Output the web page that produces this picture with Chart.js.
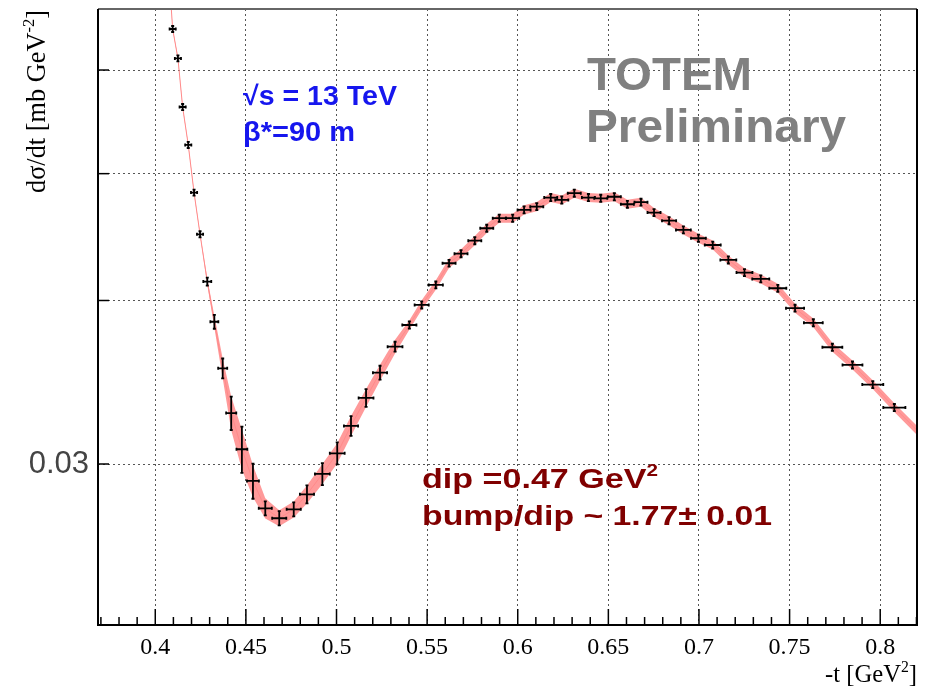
<!DOCTYPE html>
<html>
<head>
<meta charset="utf-8">
<script src="https://cdn.jsdelivr.net/npm/chart.js@4.4.1/dist/chart.umd.min.js"></script>
<style>
  html, body { margin: 0; padding: 0; background: #fff; }
  canvas { display: block; }
</style>
</head>
<body>
<canvas id="dsdt" width="927" height="689"></canvas>
<script>
// measured points: -t [GeV^2], dsigma/dt [mb GeV^-2]
const tValues = [0.4096, 0.4125, 0.4151, 0.4182, 0.4214, 0.4247, 0.4287, 0.4326, 0.4372, 0.4419,
  0.4478, 0.4539, 0.4607, 0.4684, 0.4764, 0.4837, 0.4922, 0.5004, 0.5080, 0.5163,
  0.5240, 0.5323, 0.5402, 0.5470, 0.5548, 0.5621, 0.5687, 0.5763, 0.5829, 0.5898,
  0.5972, 0.6035, 0.6105, 0.6182, 0.6243, 0.6312, 0.6390, 0.6458, 0.6533, 0.6605,
  0.6680, 0.6752, 0.6835, 0.6914, 0.6997, 0.7076, 0.7162, 0.7251, 0.7341, 0.7435,
  0.7530, 0.7631, 0.7736, 0.7847, 0.7959, 0.8078];
const sigma = [0.06449, 0.06124, 0.05622, 0.05259, 0.04836, 0.04494, 0.04135, 0.03853, 0.03550, 0.03281,
  0.03079, 0.02912, 0.02775, 0.02727, 0.02770, 0.02844, 0.02948, 0.03057, 0.03208, 0.03370,
  0.03523, 0.03688, 0.03831, 0.03969, 0.04111, 0.04271, 0.04343, 0.04444, 0.04542, 0.04623,
  0.04623, 0.04691, 0.04718, 0.04794, 0.04774, 0.04831, 0.04794, 0.04788, 0.04801, 0.04738,
  0.04755, 0.04669, 0.04603, 0.04529, 0.04463, 0.04410, 0.04296, 0.04201, 0.04155, 0.04087,
  0.03946, 0.03846, 0.03684, 0.03571, 0.03450, 0.03313];
const sigmaErr = [0.00034, 0.00032, 0.00030, 0.00028, 0.00026, 0.00024, 0.00029, 0.00047, 0.00062, 0.00096,
  0.00125, 0.00090, 0.00034, 0.00034, 0.00034, 0.00045, 0.00057, 0.00059, 0.00056, 0.00053,
  0.00043, 0.00032, 0.00024, 0.00025, 0.00025, 0.00026, 0.00027, 0.00028, 0.00028, 0.00029,
  0.00029, 0.00029, 0.00029, 0.00030, 0.00030, 0.00030, 0.00030, 0.00030, 0.00030, 0.00029,
  0.00029, 0.00029, 0.00029, 0.00028, 0.00028, 0.00027, 0.00027, 0.00026, 0.00026, 0.00025,
  0.00024, 0.00024, 0.00023, 0.00022, 0.00021, 0.00021];
const tErr = [0.0017, 0.0017, 0.0017, 0.0017, 0.0017, 0.0017, 0.0022, 0.0022, 0.0025, 0.0028,
  0.0030, 0.0033, 0.0036, 0.0039, 0.0039, 0.0039, 0.0041, 0.0041, 0.0039, 0.0041,
  0.0039, 0.0041, 0.0039, 0.0039, 0.0039, 0.0036, 0.0036, 0.0036, 0.0036, 0.0036,
  0.0036, 0.0036, 0.0036, 0.0036, 0.0036, 0.0036, 0.0036, 0.0036, 0.0036, 0.0036,
  0.0036, 0.0036, 0.0039, 0.0041, 0.0041, 0.0044, 0.0044, 0.0044, 0.0047, 0.0047,
  0.0050, 0.0052, 0.0055, 0.0055, 0.0058, 0.0061];

// fit band (centre + half width), runs a bit past the first and last points
const bandT = [0.4085].concat(tValues, [0.8202]);
const bandMid = [0.0679].concat(sigma, [0.03184]);
const bandErr = [0.00010, 0.00011, 0.00011, 0.00010, 0.00009, 0.00009, 0.00008, 0.00022, 0.00041, 0.00062,
  0.00098, 0.00108, 0.00082, 0.00049, 0.00038, 0.00039, 0.00045, 0.00052, 0.00054, 0.00056,
  0.00053, 0.00050, 0.00045, 0.00032, 0.00033, 0.00034, 0.00035, 0.00035, 0.00036, 0.00037,
  0.00037, 0.00037, 0.00038, 0.00038, 0.00038, 0.00038, 0.00039, 0.00038, 0.00038, 0.00038,
  0.00038, 0.00038, 0.00037, 0.00037, 0.00036, 0.00035, 0.00035, 0.00034, 0.00033, 0.00033,
  0.00032, 0.00031, 0.00030, 0.00029, 0.00028, 0.00027, 0.00026, 0.00025];

// axes
const xMin = 0.3684, xMax = 0.8203;
const yMin = 0.0226, yMax = 0.0668;
const yGridValues = [0.03, 0.04, 0.05, 0.06];
const yLabels = ['0.03'];

const isMajorX = v => Math.round(v * 100) % 5 === 0;

function richText(ctx, parts, x, y, size, family, weight, color, width, align) {
  const fontOf = p => `${weight} ${p.sup ? Math.round(size * 0.62) : size}px ${family}`;
  let w = 0;
  parts.forEach(p => { ctx.font = fontOf(p); w += ctx.measureText(p.t).width; });
  const sx = width ? width / w : 1;
  ctx.save();
  ctx.translate(align === 'right' ? x - w * sx : x, y);
  ctx.scale(sx, 1);
  ctx.fillStyle = color;
  ctx.textAlign = 'left';
  ctx.textBaseline = 'alphabetic';
  let cx = 0;
  parts.forEach(p => {
    ctx.font = fontOf(p);
    ctx.fillText(p.t, cx, p.sup ? -size * 0.42 : 0);
    cx += ctx.measureText(p.t).width;
  });
  ctx.restore();
}

// error bars, inward ticks, frame and labels
const decorations = {
  id: 'decorations',
  afterDatasetsDraw(chart) {
    const { ctx, chartArea: a, scales: { x, y } } = chart;
    ctx.save();
    ctx.beginPath();
    ctx.rect(a.left, a.top, a.right - a.left, a.bottom - a.top);
    ctx.clip();
    ctx.strokeStyle = '#000';
    ctx.lineWidth = 1.8;
    tValues.forEach((t, i) => {
      const px = x.getPixelForValue(t);
      const py = y.getPixelForValue(sigma[i]);
      const x0 = x.getPixelForValue(t - tErr[i]);
      const x1 = x.getPixelForValue(t + tErr[i]);
      const y0 = y.getPixelForValue(sigma[i] - sigmaErr[i]);
      const y1 = y.getPixelForValue(sigma[i] + sigmaErr[i]);
      ctx.beginPath();
      ctx.moveTo(x0, py); ctx.lineTo(x1, py);
      ctx.moveTo(px, y0); ctx.lineTo(px, y1);
      ctx.moveTo(x0, py - 1.5); ctx.lineTo(x0, py + 1.5);
      ctx.moveTo(x1, py - 1.5); ctx.lineTo(x1, py + 1.5);
      ctx.moveTo(px - 1.5, y0); ctx.lineTo(px + 1.5, y0);
      ctx.moveTo(px - 1.5, y1); ctx.lineTo(px + 1.5, y1);
      ctx.stroke();
    });
    ctx.restore();
  },
  afterDraw(chart) {
    const { ctx, chartArea: a, scales: { x, y } } = chart;
    ctx.save();
    // inward ticks
    ctx.strokeStyle = '#000';
    ctx.lineWidth = 1.5;
    x.ticks.forEach(tk => {
      const px = x.getPixelForValue(tk.value);
      const len = isMajorX(tk.value) ? 16 : 8;
      ctx.beginPath(); ctx.moveTo(px, a.bottom); ctx.lineTo(px, a.bottom - len); ctx.stroke();
    });
    yGridValues.forEach(v => {
      const py = y.getPixelForValue(v);
      ctx.beginPath(); ctx.moveTo(a.left, py); ctx.lineTo(a.left + 11, py); ctx.stroke();
    });
    // frame
    ctx.lineWidth = 2;
    ctx.strokeStyle = '#666';
    ctx.beginPath(); ctx.moveTo(a.left, a.top); ctx.lineTo(a.right, a.top); ctx.stroke();
    ctx.strokeStyle = '#000';
    ctx.beginPath();
    ctx.moveTo(a.right, a.top); ctx.lineTo(a.right, a.bottom);
    ctx.lineTo(a.left, a.bottom); ctx.lineTo(a.left, a.top);
    ctx.stroke();

    // axis titles
    richText(ctx, [{ t: '-t [GeV' }, { t: '2', sup: true }, { t: ']' }],
      917, 682, 25, '"Liberation Serif", serif', 'normal', '#000', 92, 'right');
    ctx.save();
    ctx.translate(45, 10);
    ctx.rotate(-Math.PI / 2);
    richText(ctx, [{ t: 'd\u03c3/dt [mb GeV' }, { t: '-2', sup: true }, { t: ']' }],
      0, 0, 27, '"Liberation Serif", serif', 'normal', '#000', 183, 'right');
    ctx.restore();

    // annotations
    const sans = '"Liberation Sans", Arial, sans-serif';
    richText(ctx, [{ t: '\u221as = 13 TeV' }], 243, 105, 27, sans, 'bold', '#1616ee', 154);
    richText(ctx, [{ t: '\u03b2*=90 m' }], 243, 141, 27, sans, 'bold', '#1616ee', 112);
    richText(ctx, [{ t: 'TOTEM' }], 587, 90, 47, sans, 'bold', '#808080', 165);
    richText(ctx, [{ t: 'Preliminary' }], 586, 142, 47, sans, 'bold', '#808080', 260);
    richText(ctx, [{ t: 'dip =0.47 GeV' }, { t: '2', sup: true }], 422, 488, 28, sans, 'bold', '#800000', 236);
    richText(ctx, [{ t: 'bump/dip ~ 1.77\u00b1 0.01' }], 422, 525, 28, sans, 'bold', '#800000', 350);
    ctx.restore();
  }
};

const upper = bandT.map((t, i) => ({ x: t, y: bandMid[i] + bandErr[i] }));
const lower = bandT.map((t, i) => ({ x: t, y: bandMid[i] - bandErr[i] }));
const centre = bandT.map((t, i) => ({ x: t, y: bandMid[i] }));

const chart = new Chart(document.getElementById('dsdt').getContext('2d'), {
  type: 'line',
  data: {
    datasets: [
      { data: upper, borderWidth: 0, pointRadius: 0, fill: false, tension: 0, order: 3 },
      { data: lower, borderWidth: 0, pointRadius: 0, fill: '-1', tension: 0,
        backgroundColor: '#ff9a9a', order: 2 },
      { data: centre, borderColor: '#ff8a8a', borderWidth: 1, pointRadius: 0, fill: false, tension: 0, order: 1 }
    ]
  },
  options: {
    responsive: false,
    animation: false,
    devicePixelRatio: 1,
    layout: { padding: { left: 0, right: 10, top: 9, bottom: 0 } },
    plugins: { legend: { display: false }, tooltip: { enabled: false } },
    scales: {
      x: {
        type: 'linear',
        min: xMin,
        max: xMax,
        afterBuildTicks: s => {
          const ticks = [];
          for (let k = 37; k <= 82; k++) ticks.push({ value: k / 100 });
          s.ticks = ticks;
        },
        afterFit: s => { s.height = 64; s.paddingLeft = 0; s.paddingRight = 0; },
        grid: {
          drawTicks: false,
          lineWidth: 1,
          color: c => (c.tick && isMajorX(c.tick.value)) ? '#555' : 'rgba(0,0,0,0)'
        },
        border: { display: false, dash: [2, 3] },
        ticks: {
          autoSkip: false,
          maxRotation: 0,
          minRotation: 0,
          padding: 8,
          color: '#000',
          font: { family: '"Liberation Serif", serif', size: 24 },
          callback: v => isMajorX(v) ? String(Math.round(v * 100) / 100) : ''
        }
      },
      y: {
        type: 'logarithmic',
        min: yMin,
        max: yMax,
        afterBuildTicks: s => { s.ticks = yGridValues.map(v => ({ value: v })); },
        afterFit: s => { s.width = 98; s.paddingTop = 0; s.paddingBottom = 0; },
        grid: { drawTicks: false, lineWidth: 1, color: '#555' },
        border: { display: false, dash: [2, 3] },
        ticks: {
          padding: 9,
          color: '#444',
          font: { family: '"Liberation Sans", Arial, sans-serif', size: 31 },
          callback: v => {
            const s = String(Math.round(v * 1000) / 1000);
            return yLabels.includes(s) ? s : '';
          }
        }
      }
    }
  },
  plugins: [decorations]
});
</script>
</body>
</html>
